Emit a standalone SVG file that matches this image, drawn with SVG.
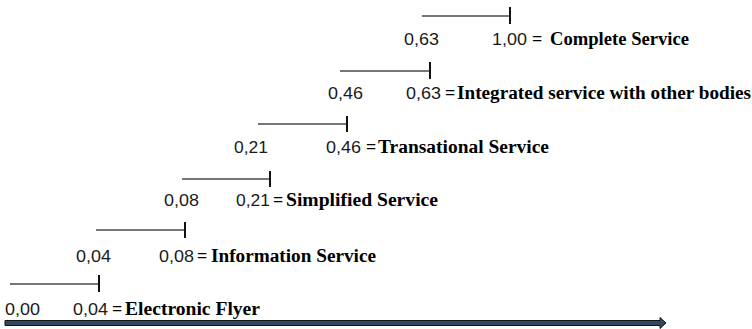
<svg xmlns="http://www.w3.org/2000/svg" width="752" height="329" viewBox="0 0 752 329">
  <style>
    .bar { stroke: #4a4a4a; stroke-width: 1.5; fill: none; }
    .tick { stroke: #111; stroke-width: 2; fill: none; }
    .num { font-family: "Liberation Sans", Arial, sans-serif; font-size: 16.5px; fill: #1a1a1a; }
    .lbl { font-family: "Liberation Serif", "Times New Roman", serif; font-size: 18px; font-weight: bold; fill: #000; }
  </style>
  <rect width="752" height="329" fill="#fff"/>

  <!-- level 1 -->
  <g id="electronic-flyer">
    <line class="bar" x1="10" y1="284" x2="99" y2="284"/>
    <line class="tick" x1="99" y1="275" x2="99" y2="292"/>
    <text class="num" x="5" y="315" textLength="35" lengthAdjust="spacingAndGlyphs">0,00</text>
    <text class="num" x="73" y="315" textLength="35" lengthAdjust="spacingAndGlyphs">0,04</text>
    <text class="lbl" x="112" y="315">=</text>
    <text class="lbl" x="125" y="315" textLength="135" lengthAdjust="spacingAndGlyphs">Electronic Flyer</text>
  </g>

  <!-- level 2 -->
  <g id="information-service">
    <line class="bar" x1="96" y1="230" x2="185" y2="230"/>
    <line class="tick" x1="185" y1="222" x2="185" y2="238"/>
    <text class="num" x="76" y="262" textLength="35" lengthAdjust="spacingAndGlyphs">0,04</text>
    <text class="num" x="159" y="262" textLength="35" lengthAdjust="spacingAndGlyphs">0,08</text>
    <text class="lbl" x="197" y="262">=</text>
    <text class="lbl" x="211" y="262" textLength="165" lengthAdjust="spacingAndGlyphs">Information Service</text>
  </g>

  <!-- level 3 -->
  <g id="simplified-service">
    <line class="bar" x1="182" y1="179" x2="270" y2="179"/>
    <line class="tick" x1="270" y1="171" x2="270" y2="187"/>
    <text class="num" x="164" y="206" textLength="35" lengthAdjust="spacingAndGlyphs">0,08</text>
    <text class="num" x="236" y="206" textLength="34" lengthAdjust="spacingAndGlyphs">0,21</text>
    <text class="lbl" x="273" y="206">=</text>
    <text class="lbl" x="286" y="206" textLength="152" lengthAdjust="spacingAndGlyphs">Simplified Service</text>
  </g>

  <!-- level 4 -->
  <g id="transational-service">
    <line class="bar" x1="258" y1="124" x2="347" y2="124"/>
    <line class="tick" x1="347" y1="116" x2="347" y2="132"/>
    <text class="num" x="234" y="153" textLength="34" lengthAdjust="spacingAndGlyphs">0,21</text>
    <text class="num" x="326" y="153" textLength="35" lengthAdjust="spacingAndGlyphs">0,46</text>
    <text class="lbl" x="366" y="153">=</text>
    <text class="lbl" x="378" y="153" textLength="171" lengthAdjust="spacingAndGlyphs">Transational Service</text>
  </g>

  <!-- level 5 -->
  <g id="integrated-service">
    <line class="bar" x1="340" y1="71" x2="430" y2="71"/>
    <line class="tick" x1="430" y1="62" x2="430" y2="79"/>
    <text class="num" x="328" y="99" textLength="35" lengthAdjust="spacingAndGlyphs">0,46</text>
    <text class="num" x="406" y="99" textLength="35" lengthAdjust="spacingAndGlyphs">0,63</text>
    <text class="lbl" x="445" y="99">=</text>
    <text class="lbl" x="457" y="99" textLength="294" lengthAdjust="spacingAndGlyphs">Integrated service with other bodies</text>
  </g>

  <!-- level 6 -->
  <g id="complete-service">
    <line class="bar" x1="422" y1="16" x2="510" y2="16"/>
    <line class="tick" x1="510" y1="7" x2="510" y2="24"/>
    <text class="num" x="404" y="45" textLength="35" lengthAdjust="spacingAndGlyphs">0,63</text>
    <text class="num" x="492" y="45" textLength="35" lengthAdjust="spacingAndGlyphs">1,00</text>
    <text class="lbl" x="532" y="45">=</text>
    <text class="lbl" x="550" y="45" textLength="139" lengthAdjust="spacingAndGlyphs">Complete Service</text>
  </g>

  <!-- axis arrow -->
  <g id="connectors">
    <path d="M5,320.5 L660,320.5 L660,317.5 L666,323 L660,328.5 L660,325.5 L5,325.5 Z" fill="#2f4760" stroke="#151515" stroke-width="1" stroke-linejoin="miter"/>
  </g>
</svg>
